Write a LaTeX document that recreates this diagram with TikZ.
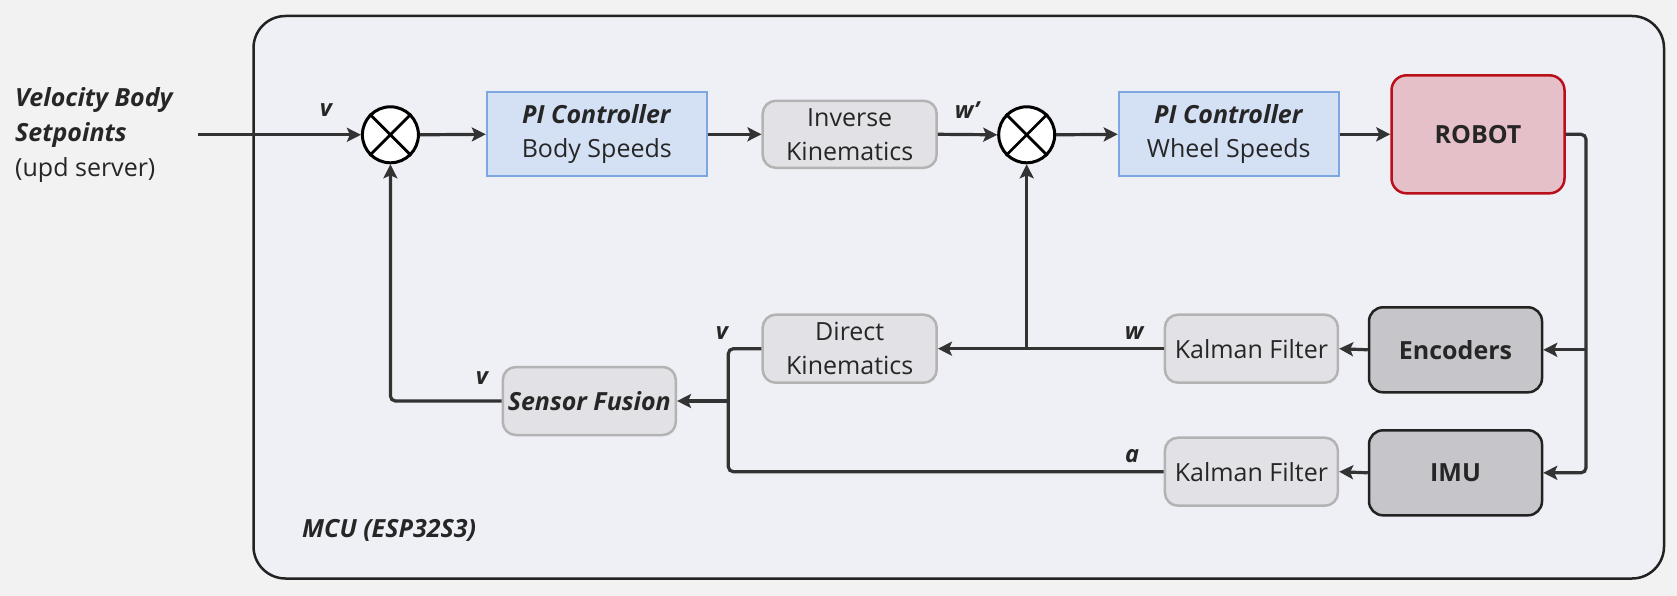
\documentclass[tikz,border=0pt]{standalone}
\usepackage{fontspec}
\setmainfont{Open Sans}
\usetikzlibrary{arrows.meta,calc}
\definecolor{pagebg}{HTML}{F2F2F2}
\definecolor{mcubg}{HTML}{EFF0F5}
\definecolor{bluefill}{HTML}{D4E1F5}
\definecolor{blueline}{HTML}{7EA6E0}
\definecolor{grayfill}{HTML}{E2E2E6}
\definecolor{grayline}{HTML}{B3B3B3}
\definecolor{darkfill}{HTML}{C6C5CA}
\definecolor{darkline}{HTML}{222222}
\definecolor{robotfill}{HTML}{E6C0C8}
\definecolor{robotline}{HTML}{B80F1A}
\definecolor{wire}{HTML}{333333}
\begin{document}
\begin{tikzpicture}[x=1pt,y=-1pt,
  txt/.style={font=\fontsize{25}{34}\selectfont, text=black!85, align=center, inner sep=0pt},
  pibox/.style={txt, draw=blueline, fill=bluefill, line width=2pt, minimum width=220pt, minimum height=84pt},
  graybox/.style={txt, draw=grayline, fill=grayfill, line width=2.5pt, rounded corners=13pt, minimum width=173pt, minimum height=68pt},
  darkbox/.style={txt, draw=darkline, fill=darkfill, line width=2.5pt, rounded corners=14pt, minimum width=173pt, minimum height=85pt, font=\fontsize{25}{34}\selectfont\bfseries},
  robotbox/.style={txt, draw=robotline, fill=robotfill, line width=2.5pt, rounded corners=15pt, minimum width=173pt, minimum height=118pt, font=\fontsize{25}{34}\selectfont\bfseries},
  sumnode/.style={circle, draw=black, fill=white, line width=3pt, minimum size=56pt, inner sep=0pt},
  wirestyle/.style={draw=wire, line width=3.2pt},
  arr/.style={wirestyle, -{Stealth[length=14pt,width=14pt,inset=3pt]}},
  sig/.style={font=\fontsize{23.5}{28}\selectfont\bfseries\itshape, text=black!85, inner sep=0pt}
]
\useasboundingbox (0,0) rectangle (1677,596);
\fill[pagebg] (0,0) rectangle (1677,596);
\draw[draw=darkline, fill=mcubg, line width=2.5pt, rounded corners=32pt] (253.5,16) rectangle (1664,578.5);

% input text
\node[txt, anchor=west, align=left, font=\fontsize{25}{35}\selectfont] (inp) at (15,134.8)
  {\textbf{\textit{Velocity Body}}\\\textbf{\textit{Setpoints}}\\(upd server)};
\coordinate (inpt) at (198,134.8);

% forward path
\node[sumnode] (s1) at (390.4,134.8) {};
\draw[line width=2.8pt] (s1.north west) -- (s1.south east) (s1.north east) -- (s1.south west);
\node[pibox] (pi1) at (596.8,134.3) {\textbf{\textit{PI Controller}}\\Body Speeds};
\node[graybox, minimum width=174pt, minimum height=67pt] (ik) at (849.7,134.3) {Inverse\\Kinematics};
\node[sumnode] (s2) at (1026.7,134.8) {};
\draw[line width=2.8pt] (s2.north west) -- (s2.south east) (s2.north east) -- (s2.south west);
\node[pibox] (pi2) at (1228.7,134.3) {\textbf{\textit{PI Controller}}\\Wheel Speeds};
\node[robotbox] (robot) at (1478,134.3) {ROBOT};

% sensors
\node[darkbox] (enc) at (1455.5,349.8) {Encoders};
\node[darkbox] (imu) at (1455.5,472.8) {IMU};
\node[graybox] (kf1) at (1251.4,348.7) {Kalman Filter};
\node[graybox] (kf2) at (1251.4,471.7) {Kalman Filter};
\node[graybox, minimum width=174pt] (dk) at (849.7,348.7) {Direct\\Kinematics};
\node[graybox] (sf) at (589.3,401) {\textbf{\textit{Sensor Fusion}}};

\coordinate (bus) at (1586,134.3);
\coordinate (j) at (728.3,401);

% labels
\node[sig] (lv1) at (326,110) {v};
\node[sig] (lw2) at (967,110) {w\char39};
\node[sig] (lw) at (1134,333) {w};
\node[sig] (lv2) at (722,333) {v};
\node[sig] (la) at (1132,456) {a};
\node[sig] (lv3) at (482,378) {v};
\node[txt, anchor=west, font=\fontsize{25}{30}\selectfont\bfseries\itshape] (mcu) at (302,530) {MCU (ESP32S3)};

% connectors
\draw[arr] (inpt) -- (s1.west);
\draw[arr] (s1.east) -- (pi1.west);
\draw[arr] (pi1.east) -- (ik.west);
\draw[arr] (ik.east) -- (s2.west);
\draw[arr] (s2.east) -- (pi2.west);
\draw[arr] (pi2.east) -- (robot.west);
\draw[arr, rounded corners=5pt] (robot.east) -- (bus) |- (imu.east);
\draw[arr] (bus |- enc.east) -- (enc.east);
\draw[arr] (enc.west) -- (kf1.east);
\draw[arr] (imu.west) -- (kf2.east);
\draw[arr] (kf1.west) -- (dk.east);
\draw[arr] (s2.south |- kf1.west) -- (s2.south);
\draw[wirestyle, rounded corners=5pt] (dk.west) -| (j);
\draw[wirestyle, rounded corners=5pt] (kf2.west) -| (j);
\draw[arr] (j) -- (sf.east);
\draw[arr, rounded corners=5pt] (sf.west) -| (s1.south);
\end{tikzpicture}
\end{document}
